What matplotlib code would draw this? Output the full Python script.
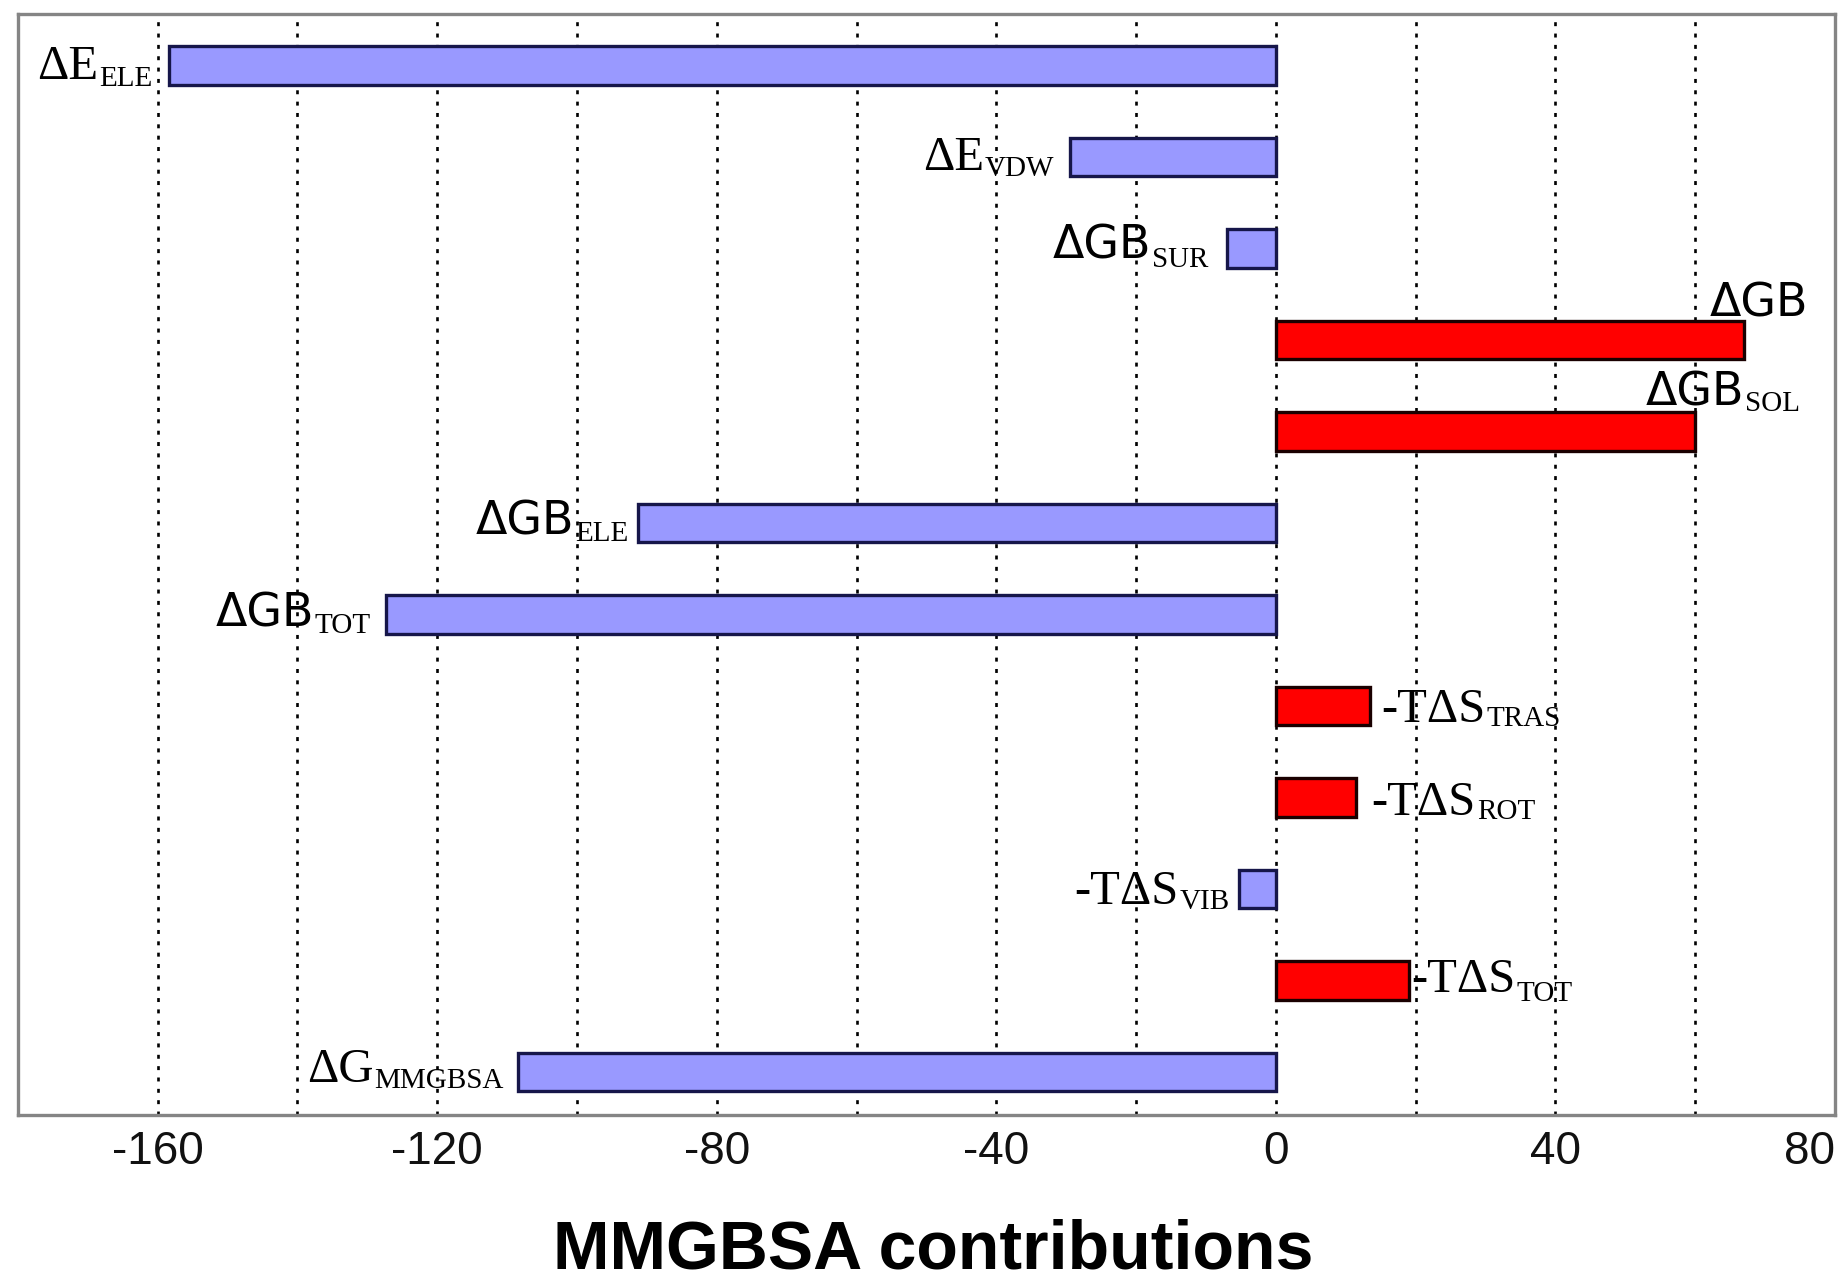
import matplotlib
matplotlib.use('Agg')
import matplotlib.pyplot as plt
from matplotlib.transforms import offset_copy

# energy terms, top to bottom
terms_main = ['ΔE', 'ΔE', 'ΔGB', 'ΔGB', 'ΔGB', 'ΔGB', 'ΔGB',
              '-TΔS', '-TΔS', '-TΔS', '-TΔS', 'ΔG']
terms_sub = ['ELE', 'VDW', 'SUR', '', 'SOL', 'ELE', 'TOT',
             'TRAS', 'ROT', 'VIB', 'TOT', 'MMGBSA']
values = [-158.4, -29.4, -7.0, 67.0, 60.0, -91.3, -127.4,
          13.4, 11.4, -5.3, 19.0, -108.4]

grid_x = list(range(-160, 80, 20))
tick_x = list(range(-160, 81, 40))
xlabel = 'MMGBSA contributions'

# label placement: (x offset from bar end, main baseline dy, sub baseline dy, anchor)
label_pos = [
    (-2.3, 0.15, 0.22, 'right'),
    (-2.3, 0.14, 0.21, 'right'),
    (-2.6, 0.11, 0.20, 'right'),
    (9.3, -0.26, -0.26, 'right'),
    (15.0, -0.28, -0.22, 'right'),
    (-1.4, 0.13, 0.20, 'right'),
    (-2.1, 0.13, 0.20, 'right'),
    (1.7, 0.17, 0.22, 'left'),
    (2.3, 0.19, 0.24, 'left'),
    (-1.3, 0.16, 0.22, 'right'),
    (0.3, 0.13, 0.22, 'left'),
    (-2.1, 0.11, 0.18, 'right'),
]

blue = '#9999ff'
blue_edge = '#16164a'
red = '#ff0000'
red_edge = '#1a0000'

fig = plt.figure(figsize=(18.47, 12.85), dpi=100)
ax = fig.add_axes([0.0097, 0.1323, 0.9838, 0.8567])

ypos = list(range(len(values)))
colors = [red if v > 0 else blue for v in values]
edges = [red_edge if v > 0 else blue_edge for v in values]
ax.barh(ypos, values, height=0.42, color=colors, edgecolor=edges,
        linewidth=2.4, zorder=3)

ax.set_xlim(-180, 80)
ax.set_ylim(len(values) - 0.53, -0.56)
ax.set_yticks([])
ax.set_xticks(tick_x)
ax.set_xticklabels([str(t) for t in tick_x], fontfamily='Liberation Sans',
                   fontsize=33, color='#111111')
ax.get_xticklabels()[-1].set_horizontalalignment('right')
ax.tick_params(axis='x', length=0, pad=11)
for gx in grid_x:
    ax.axvline(gx, color='black', linestyle=(0, (1.5, 2.8)), linewidth=1.9,
               zorder=1)
for sp in ax.spines.values():
    sp.set_color('#858585')
    sp.set_linewidth(2.4)

renderer = fig.canvas.get_renderer()

for i, v in enumerate(values):
    dx, dy_main, dy_sub, anchor = label_pos[i]
    main = terms_main[i]
    sub = terms_sub[i]
    main_font = 'DejaVu Sans' if main == 'ΔGB' else 'Liberation Serif'
    main_size = 33 if main == 'ΔGB' else 35
    x = v + dx
    if anchor == 'right':
        if sub:
            ts = ax.text(x, i + dy_sub, sub, ha='right', va='baseline',
                         fontfamily='Liberation Serif', fontsize=21, zorder=4)
            w = ts.get_window_extent(renderer).width
        else:
            w = 0
        tr = offset_copy(ax.transData, fig=fig, x=-w - 1, y=0, units='dots')
        ax.text(x, i + dy_main, main, ha='right', va='baseline',
                fontfamily=main_font, fontsize=main_size, transform=tr,
                zorder=4)
    else:
        tm = ax.text(x, i + dy_main, main, ha='left', va='baseline',
                     fontfamily=main_font, fontsize=main_size, zorder=4)
        w = tm.get_window_extent(renderer).width
        tr = offset_copy(ax.transData, fig=fig, x=w + 1, y=0, units='dots')
        ax.text(x, i + dy_sub, sub, ha='left', va='baseline',
                fontfamily='Liberation Serif', fontsize=21, transform=tr,
                zorder=4)

fig.text(0.505, 0.013, xlabel, ha='center', va='baseline',
         fontfamily='Liberation Sans', fontweight='bold', fontsize=49)

fig.savefig('out.png', dpi=100, facecolor='white')
